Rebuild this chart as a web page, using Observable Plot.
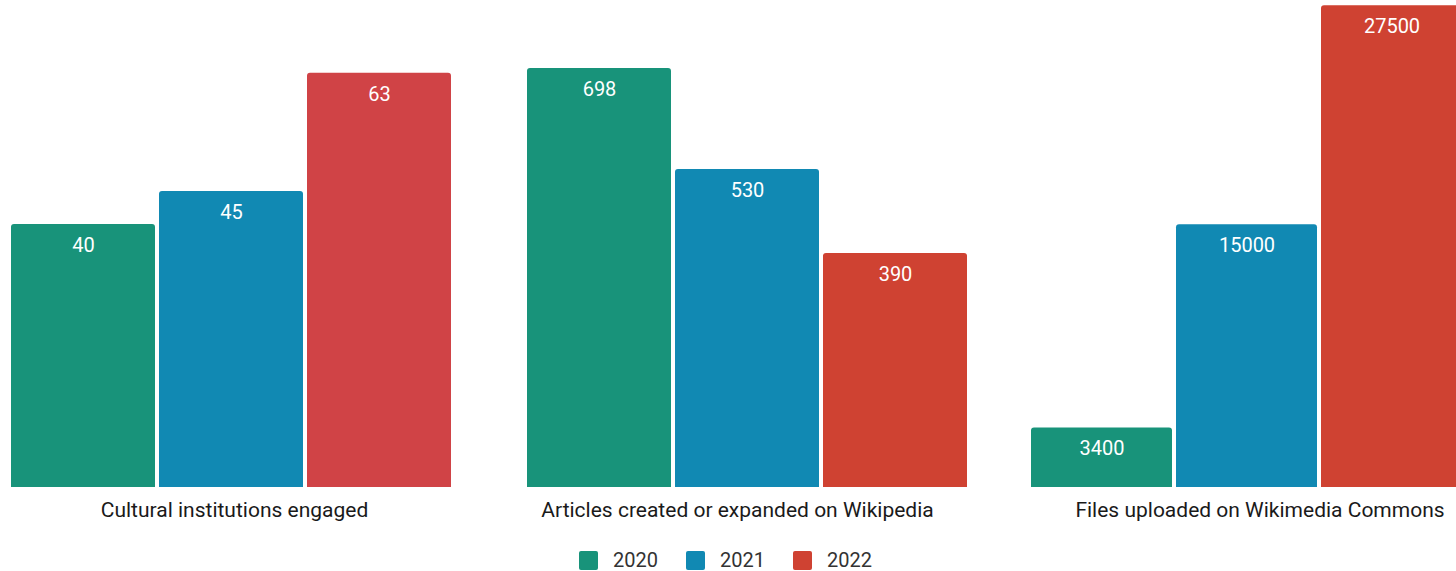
<!DOCTYPE html>
<html>
<head>
<meta charset="utf-8">
<script src="https://cdn.jsdelivr.net/npm/d3@7"></script>
<script src="https://cdn.jsdelivr.net/npm/@observablehq/plot@0.6"></script>
<style>
  html, body { margin: 0; padding: 0; background: #fff; overflow: hidden; }
  #wrap { position: relative; width: 1456px; height: 571px; overflow: hidden; font-family: Roboto, "Noto Sans", sans-serif; }
  .panel { position: absolute; top: 0; }
  #legend { position: absolute; left: 579px; top: 548px; display: flex; align-items: center; font-family: Roboto, sans-serif; font-size: 20px; color: #333; }
  .item { display: flex; align-items: center; margin-right: 28px; }
  .sw { width: 19px; height: 19px; border-radius: 2px; margin-right: 15px; }
</style>
</head>
<body>
<div id="wrap"></div>
<script>
// ---- data ----
const categories = [
  "Cultural institutions engaged",
  "Articles created or expanded on Wikipedia",
  "Files uploaded on Wikimedia Commons"
];
const years = ["2020", "2021", "2022"];
const institutions = [40, 45, 63];
const articles = [698, 530, 390];
const files = [3400, 15000, 27500];

// ---- styling / layout ----
const seriesValues = [institutions, articles, files];
const panels = [
  {left: 9,    width: 444, yMax: 74.06, labelDx: 3,   colors: ["#18937a", "#1189b3", "#d04346"]},
  {left: 525,  width: 444, yMax: 811.4, labelDx: -10, colors: ["#18937a", "#1189b3", "#cf4232"]},
  {left: 1029, width: 435, yMax: 27803, labelDx: 13,  colors: ["#18937a", "#1189b3", "#cf4232"]}
];
const legendColors = ["#18937a", "#1189b3", "#cf4232"];

const wrap = document.getElementById("wrap");

categories.forEach((cat, i) => {
  const p = panels[i];
  const rows = years.map((y, j) => ({year: y, value: seriesValues[i][j]}));
  const chart = Plot.plot({
    width: p.width,
    height: 530,
    marginTop: 0,
    marginBottom: 43,
    marginLeft: 0,
    marginRight: 0,
    style: {fontFamily: "Roboto, sans-serif", background: "transparent", overflow: "visible"},
    x: {domain: years, padding: 0, axis: null},
    y: {domain: [0, p.yMax], axis: null},
    color: {domain: years, range: p.colors},
    marks: [
      Plot.barY(rows, {x: "year", y: "value", fill: "year", insetLeft: 2, insetRight: 2, ry1: 3}),
      Plot.text(rows, {x: "year", y: "value", text: d => String(d.value), fill: "white", fontSize: 20, dy: 21}),
      Plot.text([cat], {text: d => d, frameAnchor: "bottom", lineAnchor: "middle", dy: 23, dx: p.labelDx, fontSize: 21, fill: "#1a1a1a"})
    ]
  });
  chart.classList.add("panel");
  chart.style.left = p.left + "px";
  wrap.appendChild(chart);
});

const legend = document.createElement("div");
legend.id = "legend";
years.forEach((y, j) => {
  const it = document.createElement("div");
  it.className = "item";
  const sw = document.createElement("div");
  sw.className = "sw";
  sw.style.background = legendColors[j];
  const t = document.createElement("span");
  t.textContent = y;
  it.appendChild(sw);
  it.appendChild(t);
  legend.appendChild(it);
});
wrap.appendChild(legend);
</script>
</body>
</html>
